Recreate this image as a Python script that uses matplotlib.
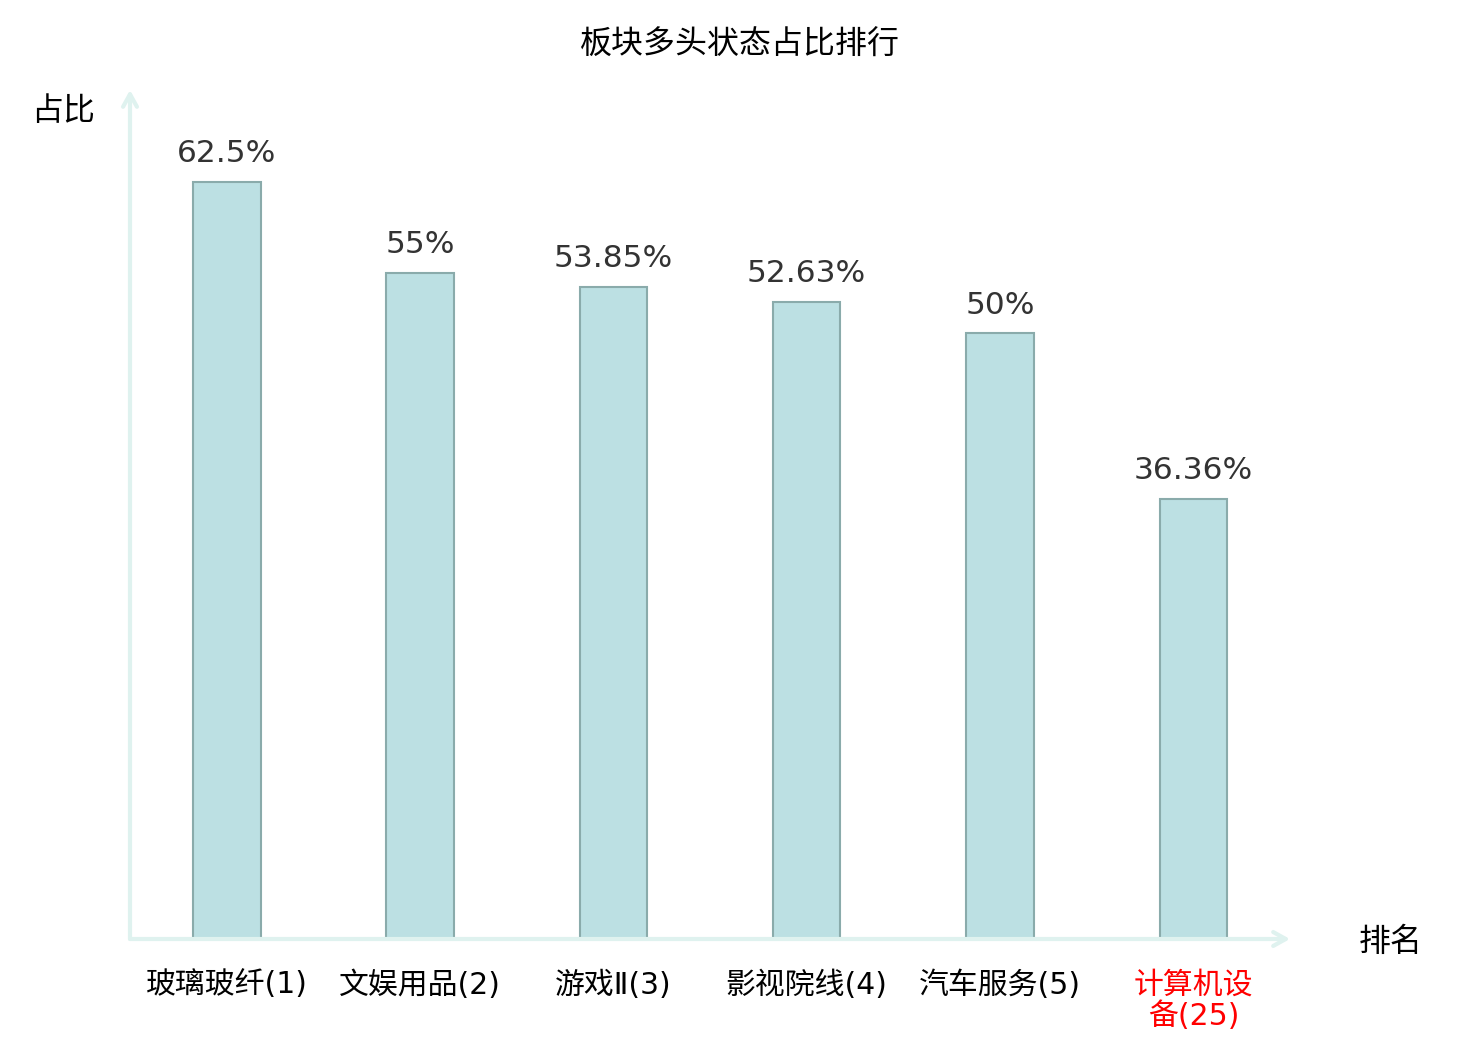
import matplotlib
matplotlib.use("Agg")
import matplotlib.pyplot as plt
import numpy as np

plt.rcParams['font.family'] = ['Noto Sans CJK SC', 'DejaVu Sans']

# data
categories = ['玻璃玻纤(1)', '文娱用品(2)', '游戏Ⅱ(3)', '影视院线(4)', '汽车服务(5)', '计算机设\n备(25)']
values = [62.5, 55, 53.85, 52.63, 50, 36.36]
value_labels = ['62.5%', '55%', '53.85%', '52.63%', '50%', '36.36%']
label_colors = ['black', 'black', 'black', 'black', 'black', 'red']

fig = plt.figure(figsize=(14.8, 10.4), dpi=100)
ax = fig.add_axes([130 / 1480, 101 / 1040, 1160 / 1480, 849 / 1040])

x = np.arange(len(categories))
ax.bar(x, values, width=0.35, color='#bce0e3', edgecolor='#8aabab', linewidth=1.5, zorder=3)

for xi, v, lab in zip(x, values, value_labels):
    ax.annotate(lab, (xi, v), xytext=(0, 10), textcoords='offset points',
                ha='center', va='bottom', fontsize=22.5, color='#333333',
                family=['DejaVu Sans'])

ax.set_xlim(-0.5, 5.5)
ax.set_ylim(0, 70.1)
for s in ax.spines.values():
    s.set_visible(False)
ax.set_yticks([])
ax.set_xticks([])

# x tick labels, digits in a lighter latin font like the original
for xi, cat, c in zip(x, categories, label_colors):
    ax.text(xi, -2.6, cat, ha='center', va='top', fontsize=21.5, color=c,
            linespacing=1.1, family=['DejaVu Sans', 'Noto Sans CJK SC'])

# axis lines with arrows
axis_col = '#dff2ef'
ax.annotate('', xy=(0, 1.0), xytext=(0, 0), xycoords='axes fraction',
            arrowprops=dict(arrowstyle='->,head_length=0.9,head_width=0.5',
                            color=axis_col, lw=3, shrinkA=0, shrinkB=0),
            annotation_clip=False)
ax.annotate('', xy=(1.0, 0), xytext=(0, 0), xycoords='axes fraction',
            arrowprops=dict(arrowstyle='->,head_length=0.9,head_width=0.5',
                            color=axis_col, lw=3, shrinkA=0, shrinkB=0),
            annotation_clip=False)

fig.text(63 / 1480, 1 - 111 / 1040, '占比', ha='center', va='center', fontsize=23)
fig.text(1391 / 1480, 1 - 942 / 1040, '排名', ha='center', va='center', fontsize=23)
fig.text(740 / 1480, 1 - 45 / 1040, '板块多头状态占比排行', ha='center', va='center', fontsize=23)

fig.savefig('out.png', dpi=100)
